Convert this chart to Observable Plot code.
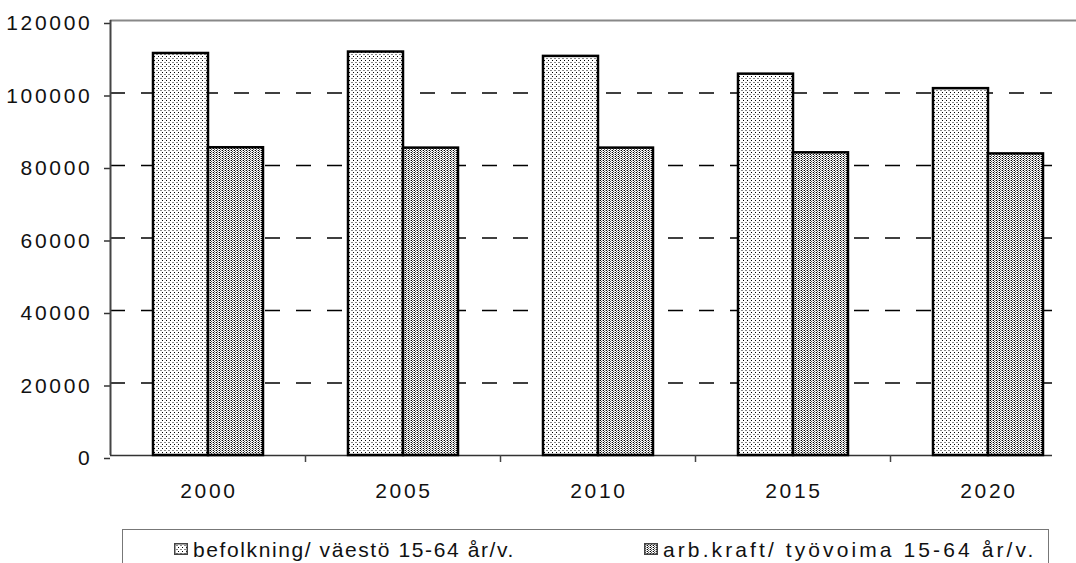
<!DOCTYPE html>
<html><head><meta charset="utf-8">
<script src="https://cdn.jsdelivr.net/npm/d3@7"></script>
<script src="https://cdn.jsdelivr.net/npm/@observablehq/plot@0.6"></script>
<style>
html,body{margin:0;padding:0;background:#fff;overflow:hidden;}
#chart{position:relative;width:1076px;height:522px;}
#chart > svg{position:absolute;left:0;top:0;}
#legend{position:absolute;left:122px;top:529px;width:925px;height:40px;border:1.5px solid #777;border-bottom:none;
  font-family:"Liberation Sans", Arial, sans-serif;font-size:21px;color:#111;}
.item{position:absolute;top:9px;line-height:21px;white-space:nowrap;}
.item svg{position:absolute;left:0;top:4px;}
.item span{position:absolute;left:19px;top:0;}
</style>
</head>
<body>
<svg width="0" height="0" style="position:absolute">
  <defs>
    <pattern id="pLight" width="4" height="4" patternUnits="userSpaceOnUse">
      <rect width="4" height="4" fill="#fff"/>
      <rect x="0" y="0" width="1" height="1" fill="#000"/>
      <rect x="2" y="2" width="2" height="1" fill="#888"/>
    </pattern>
    <pattern id="pDense" width="3" height="2" patternUnits="userSpaceOnUse">
      <rect width="3" height="2" fill="#fff"/>
      <rect x="0" y="0" width="1" height="1" fill="#000"/>
      <rect x="1" y="1" width="1" height="1" fill="#555"/>
      <rect x="2" y="0" width="1" height="1" fill="#aaa"/>
    </pattern>
  </defs>
</svg>
<div id="chart"></div>
<div id="legend"></div>
<script>
const years = [2000, 2005, 2010, 2015, 2020];
const befolkning = [110900, 111300, 110100, 105200, 101200];
const arbkraft = [84900, 84800, 84800, 83500, 83200];
const seriesNames = ["befolkning/ väestö 15-64 år/v.", "arb.kraft/ työvoima 15-64 år/v."];
const seriesFills = ["url(#pLight)", "url(#pDense)"];
const yTicks = [0, 20000, 40000, 60000, 80000, 100000, 120000];

const data = [];
years.forEach((yr, i) => {
  data.push({year: yr, series: seriesNames[0], value: befolkning[i], fill: seriesFills[0]});
  data.push({year: yr, series: seriesNames[1], value: arbkraft[i], fill: seriesFills[1]});
});

const W = 1076, H = 522, mL = 110, mR = 24, mT = 20, mB = 67;
const xRange = [110, 1085];
const xDomain = [years[0] - 2.5, years[years.length - 1] + 2.5];
const boundaries = years.map(y => y - 2.5).concat([years[years.length - 1] + 2.5]);
const font = {fontSize: "21px", fontFamily: "'Liberation Sans', Arial, sans-serif", letterSpacing: "2.7px", color: "#111", background: "transparent", overflow: "hidden"};

const back = Plot.plot({
  width: W, height: H, marginLeft: mL, marginRight: mR, marginTop: mT, marginBottom: mB,
  style: font,
  x: {type: "linear", domain: xDomain, range: xRange, axis: null},
  y: {domain: [0, 120000], axis: null},
  marks: [
    Plot.ruleY(yTicks.filter(t => t > 0 && t < 120000), {stroke: "#000", strokeWidth: 1.3, strokeDasharray: "15,16"}),
    Plot.ruleY([yTicks[yTicks.length - 1]], {x1: () => xDomain[0], x2: () => xDomain[1], stroke: "#888", strokeWidth: 2}),
    Plot.axisY({ticks: yTicks, tickSize: 6, tickPadding: 12, tickFormat: d => String(d), label: null, stroke: "#333", strokeWidth: 1.5, dy: 3}),
    Plot.ruleX([xDomain[0]], {y1: 0, y2: 120000, stroke: "#444", strokeWidth: 2}),
    Plot.ruleY([0], {stroke: "#333", strokeWidth: 1.5}),
    Plot.axisX({ticks: boundaries.filter(b => b > xDomain[0]), tickSize: 7, tickFormat: () => "", label: null, stroke: "#444", strokeWidth: 1.5}),
    Plot.axisX({ticks: years, tickSize: 0, tickPadding: 28, tickFormat: d => String(d), label: null, dx: 1})
  ]
});

const front = Plot.plot({
  width: W, height: H, marginLeft: mL, marginRight: mR, marginTop: mT, marginBottom: mB,
  style: font,
  fx: {domain: years, range: xRange, paddingInner: 0.43, paddingOuter: 0.215, axis: null, label: null},
  x: {domain: seriesNames, padding: 0, axis: null, label: null},
  y: {domain: [0, 120000], axis: null},
  color: {type: "identity"},
  marks: [
    Plot.barY(data, {fx: "year", x: "series", y: "value", fill: "fill", stroke: "#000", strokeWidth: 2.5})
  ]
});

const chart = document.getElementById("chart");
chart.appendChild(back);
chart.appendChild(front);

const legend = document.getElementById("legend");
const itemLeft = [51, 521];
const itemSpacing = ["1.6px", "3.1px"];
seriesNames.forEach((name, i) => {
  const it = document.createElement("div");
  it.className = "item";
  it.style.left = itemLeft[i] + "px";
  it.style.letterSpacing = itemSpacing[i];
  it.innerHTML = `<svg width="14" height="12"><rect x="0.75" y="0.75" width="12.5" height="10.5" fill="${seriesFills[i]}" stroke="#444" stroke-width="1.5"/></svg><span>${name}</span>`;
  legend.appendChild(it);
});
</script>
</body></html>
